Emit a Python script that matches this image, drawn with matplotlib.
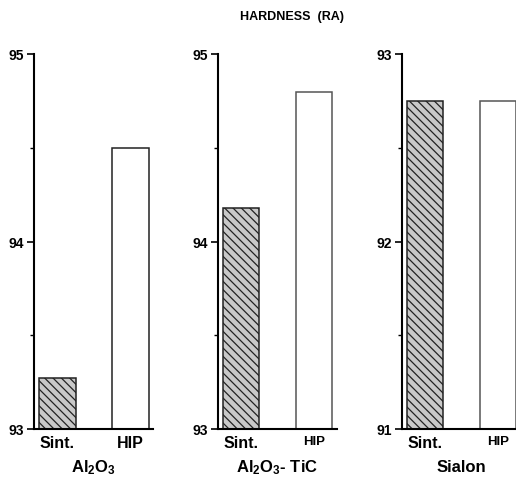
import matplotlib
matplotlib.use("Agg")
import matplotlib.pyplot as plt
from matplotlib.ticker import MultipleLocator

plt.rcParams['font.family'] = ['Liberation Sans', 'DejaVu Sans']
plt.rcParams['mathtext.fontset'] = 'custom'
plt.rcParams['mathtext.rm'] = 'Liberation Sans:bold'
plt.rcParams['mathtext.it'] = 'Liberation Sans:bold'
plt.rcParams['mathtext.bf'] = 'Liberation Sans:bold'
plt.rcParams['hatch.linewidth'] = 0.9
plt.rcParams['hatch.color'] = '#333333'

# data
groups = [r'Al$_2$O$_3$', r'Al$_2$O$_3$- TiC', 'Sialon']
categories = ['Sint.', 'HIP']
sint = [93.27, 94.18, 92.75]
hip = [94.5, 94.8, 92.75]
y_ranges = [(93, 95), (93, 95), (91, 93)]
hip_small = [False, True, True]

W, H = 516, 481
fig = plt.figure(figsize=(W / 100, H / 100), dpi=100)

fig.text(292 / W, 1 - 17 / H, 'HARDNESS  (RA)', ha='center', va='center',
         fontsize=9, fontweight='bold')

px_per_unit = 73.0
offsets = [0, 183.5, 367.5]
for i in range(3):
    left_px = 34 + offsets[i]
    width_px = 119
    ax = fig.add_axes([left_px / W, (H - 430) / H, width_px / W, 375 / H])
    x0 = -(57.5 - 34) / px_per_unit
    ax.set_xlim(x0, x0 + width_px / px_per_unit)
    ax.set_ylim(*y_ranges[i])
    lo, hi = y_ranges[i]

    ax.bar(0, sint[i] - lo, bottom=lo, width=0.5, color='#c8c8c8',
           edgecolor='#222222', linewidth=1.1, hatch='\\\\\\\\')
    ax.bar(1, hip[i] - lo, bottom=lo, width=0.5, color='white',
           edgecolor='#222222' if i == 0 else '#555555', linewidth=1.1)

    for s in ['top', 'right']:
        ax.spines[s].set_visible(False)
    for s in ['left', 'bottom']:
        ax.spines[s].set_linewidth(1.5)

    ax.yaxis.set_major_locator(MultipleLocator(1))
    ax.yaxis.set_minor_locator(MultipleLocator(0.5))
    ax.tick_params(axis='y', which='major', direction='out', length=5,
                   width=1.2, labelsize=10, pad=2)
    ax.tick_params(axis='y', which='minor', direction='out', length=3, width=1.0)
    for lab in ax.get_yticklabels():
        lab.set_fontweight('bold')

    ax.set_xticks([0, 1])
    ax.set_xticklabels(categories, fontweight='bold', fontsize=11.5)
    ax.tick_params(axis='x', length=0, pad=4)
    if hip_small[i]:
        ax.get_xticklabels()[1].set_fontsize(9.5)

    cx = (left_px + left_px + width_px) / 2
    if i == 2:
        cx = 461
    fig.text(cx / W, 1 - 468 / H, groups[i], ha='center', va='center',
             fontsize=12, fontweight='bold')

fig.savefig('out.png', dpi=100)
